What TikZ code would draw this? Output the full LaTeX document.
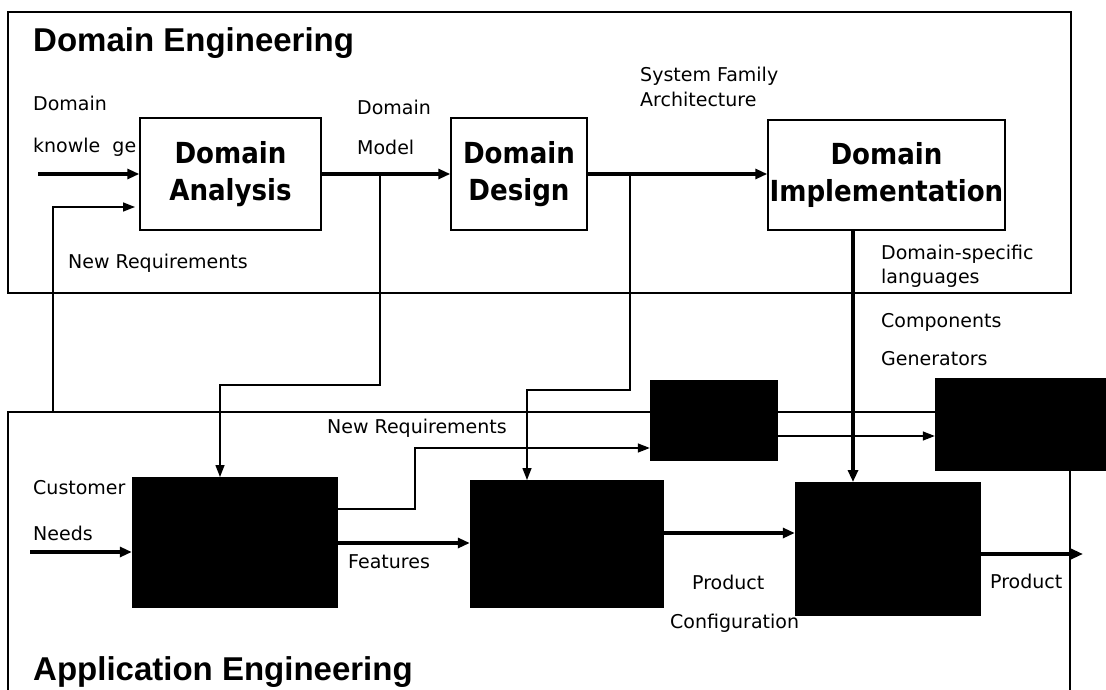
\documentclass[tikz,border=0pt]{standalone}
\usepackage{fontspec}
\setmainfont{DejaVu Sans}
\newfontfamily\titlefont{Liberation Sans}
\newfontfamily\boxfont{DejaVu Sans Condensed}
\usetikzlibrary{arrows.meta,calc}
\begin{document}
\begin{tikzpicture}[x=1pt,y=-1pt,
  lbl/.style={font=\fontsize{19}{21}\selectfont, inner sep=0pt, anchor=base west},
  ttl/.style={font=\titlefont\bfseries\fontsize{33}{36}\selectfont, inner sep=0pt, anchor=base west},
  wbox/.style={draw, line width=1.4pt, fill=white, inner sep=0pt, align=center,
     font=\boxfont\bfseries\fontsize{29}{37}\selectfont},
  bbox/.style={draw, fill=black, inner sep=0pt},
  thickarr/.style={line width=3.6pt, -{Triangle[length=12pt,width=10pt]}},
  thinarr/.style={line width=1.4pt, -{Triangle[length=12pt,width=9pt]}},
  frame/.style={line width=1.4pt}]
\useasboundingbox (0,0) rectangle (1106,690);
% frames
\draw[frame] (8,12) rectangle (1071,293);
\coordinate (aftl) at (8,412);
\coordinate (aftr) at (935,412);
\coordinate (afbl) at (8,690);
\draw[frame] (aftr) -- (aftl) -- (afbl);
\coordinate (afr1) at (1070,470);
\coordinate (afr2) at (1070,690);
\draw[frame] (afr1) -- (afr2);
% titles
\node[ttl] (tde) at (33,52) {Domain Engineering};
\node[ttl] (tae) at (33,680) {Application Engineering};
% domain boxes
\node[wbox, minimum width=181pt, minimum height=112pt] (da) at (230.5,174) {Domain\\Analysis};
\node[wbox, minimum width=136pt, minimum height=112pt] (dd) at (519,174) {Domain\\Design};
\node[wbox, minimum width=237pt, minimum height=110pt] (di) at (886.5,175) {Domain\\Implementation};
% application boxes
\node[bbox, minimum width=205pt, minimum height=130pt] (cb) at (234.5,542) {};
\node[bbox, minimum width=193pt, minimum height=127pt] (cf) at (566.5,543.5) {};
\node[bbox, minimum width=127pt, minimum height=80pt] (sb) at (713.5,420) {};
\node[bbox, minimum width=171pt, minimum height=92pt] (rb) at (1020.5,424) {};
\node[bbox, minimum width=185pt, minimum height=133pt] (ab) at (887.5,548.5) {};
% labels (domain)
\node[lbl] (l1) at (33,111) {Domain};
\node[lbl] (l2) at (33,153) {knowle\ \ ge};
\node[lbl] (l3) at (68,268) {New Requirements};
\node[lbl] (l4) at (357,115) {Domain};
\node[lbl] (l5) at (357,154) {Model};
\node[lbl] (l6) at (640,82) {System Family};
\node[lbl] (l7) at (640,107) {Architecture};
\node[lbl] (l8) at (881,259) {Domain-specific};
\node[lbl] (l9) at (881,283) {languages};
\node[lbl] (l10) at (881,327) {Components};
\node[lbl] (l11) at (881,365) {Generators};
% labels (application)
\node[lbl] (l12) at (327,433) {New Requirements};
\node[lbl] (l13) at (33,494) {Customer};
\node[lbl] (l14) at (33,540) {Needs};
\node[lbl] (l15) at (348,568) {Features};
\node[lbl] (l16) at (692,589) {Product};
\node[lbl] (l17) at (670,628) {Configuration};
\node[lbl] (l18) at (990,588) {Product};
% connectors domain
\coordinate (dkin) at (38,174);
\draw[thickarr] (dkin) -- (da.west);
\coordinate (fb0) at (53,412);
\coordinate (fb1) at (135,207);
\draw[thinarr] (fb0) |- (fb1);
\draw[thickarr] (da.east) -- (dd.west |- da.east);
\draw[thickarr] (dd.east) -- (di.west |- dd.east);
\coordinate (dm0) at (380,174);
\coordinate (dm1) at (380,385);
\coordinate (cbin) at (220,477);
\draw[thinarr] (dm0) -- (dm1) -| (cbin);
\coordinate (sf0) at (630,174);
\coordinate (sf1) at (630,390);
\coordinate (cfin) at (527,480);
\draw[thinarr] (sf0) -- (sf1) -| (cfin);
\coordinate (di0) at (853,230);
\coordinate (abin) at (853,482);
\draw[thickarr] (di0) -- (abin);
% connectors application
\coordinate (cnin) at (30,552);
\draw[thickarr] (cnin) -- (cnin -| cb.west);
\coordinate (nr0) at (337,509);
\coordinate (nr1) at (415,509);
\coordinate (nr2) at (415,448);
\draw[thinarr] (nr0) -- (nr1) -- (nr2) -- (nr2 -| sb.west);
\coordinate (sr0) at (777,436);
\draw[thinarr] (sr0) -- (sr0 -| rb.west);
\coordinate (fe0) at (337,543);
\draw[thickarr] (fe0) -- (fe0 -| cf.west);
\coordinate (pc0) at (663,533);
\draw[thickarr] (pc0) -- (pc0 -| ab.west);
\coordinate (pr0) at (980,554);
\coordinate (pr1) at (1083,554);
\draw[thickarr] (pr0) -- (pr1);
\end{tikzpicture}
\end{document}
